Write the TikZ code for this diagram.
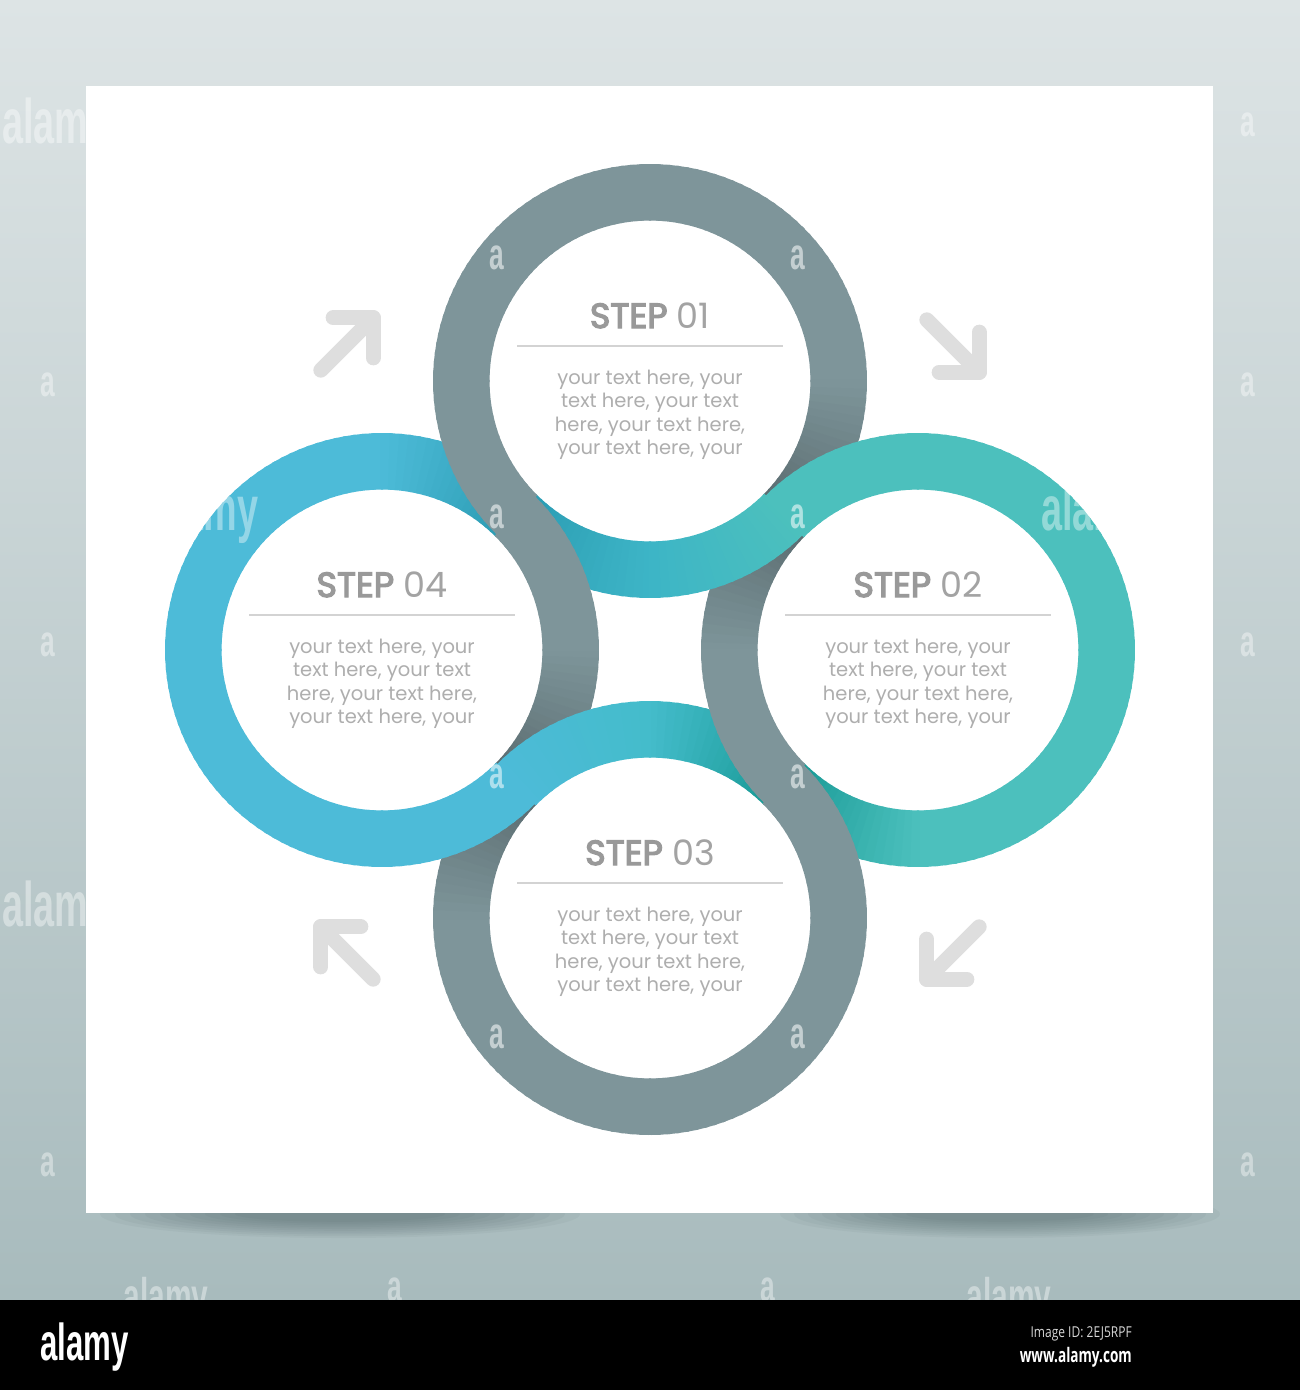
\documentclass[tikz,border=0pt]{standalone}
\usepackage{fontspec}
\newfontfamily\popfont{Poppins}
\newfontfamily\popstep{Poppins}[FakeBold=3.6]
\newfontfamily\alamyfont{Liberation Sans}[FakeStretch=0.6]
\newfontfamily\idfont{Open Sans}[FakeStretch=0.8]
\newfontfamily\wwwfont{Open Sans}[FakeStretch=0.68]
\definecolor{bgtop}{HTML}{DDE4E5}
\definecolor{bgbot}{HTML}{A8BBBD}
\definecolor{gry}{HTML}{7E959A}
\definecolor{gryd}{HTML}{5B6D71}
\definecolor{blu}{HTML}{4DBBD8}
\definecolor{blud}{HTML}{2C9DB4}
\definecolor{tea}{HTML}{4CC0BD}
\definecolor{tead}{HTML}{1A9B97}
\definecolor{midt}{HTML}{3DB5C6}
\definecolor{midb}{HTML}{44BCCB}
\definecolor{steptxt}{HTML}{999999}
\definecolor{numtxt}{HTML}{A3A3A3}
\definecolor{bodytxt}{HTML}{AEAEAE}
\definecolor{divc}{HTML}{D3D3D3}
\definecolor{arrc}{HTML}{DEDEDE}
\definecolor{shadc}{HTML}{3E5559}
\definecolor{idtxt}{HTML}{D8D8D8}
% ring segment: cx cy a1 a2 col1 col2 N  (a1<a2, image angles, y down)
\newcommand\rseg[7]{%
  \foreach \k in {1,...,#7}{%
    \pgfmathsetmacro\angA{#3+(#4-#3)*(\k-1)/#7-0.4}%
    \pgfmathsetmacro\angB{#3+(#4-#3)*\k/#7+0.4}%
    \pgfmathsetmacro\pc{100-100*(\k-0.5)/#7}%
    \fill[#5!\pc!#6] ({#1+160.5*cos(\angA)},{#2+160.5*sin(\angA)})
      -- ({#1+217*cos(\angA)},{#2+217*sin(\angA)})
      -- ({#1+217*cos(\angB)},{#2+217*sin(\angB)})
      -- ({#1+160.5*cos(\angB)},{#2+160.5*sin(\angB)}) -- cycle;
  }}
\newcommand\stepblock[4]{%
  \node[steplabel] (#4h) at (#1,#2-53) {{\popstep STEP} {\color{numtxt}#3}};
  \draw[divider] (#1-133,#2-35) -- (#1+133,#2-35);
  \node[bodyline] (#4a) at (#1,#2+3) {your text here, your};
  \node[bodyline] (#4b) at (#1,#2+26.5) {text here, your text};
  \node[bodyline] (#4c) at (#1,#2+50) {here, your text here,};
  \node[bodyline] (#4d) at (#1,#2+73.5) {your text here, your};
}
\newcommand\arrowmark[4]{%
  \coordinate (#4c) at ({#1+37*cos(#3)},{#2+37*sin(#3)});
  \coordinate (#4t) at ({#1-37*cos(#3)},{#2-37*sin(#3)});
  \coordinate (#4p) at ({#1+37*cos(#3)+40*cos(#3+135)},{#2+37*sin(#3)+40*sin(#3+135)});
  \coordinate (#4q) at ({#1+37*cos(#3)+40*cos(#3-135)},{#2+37*sin(#3)+40*sin(#3-135)});
  \draw[arrowline] (#4t) -- (#4c);
  \draw[arrowline] (#4p) -- (#4c) -- (#4q);
}
\tikzset{
  steplabel/.style={font=\popfont\fontsize{35}{40}\selectfont, text=steptxt, anchor=base, inner sep=0pt},
  bodyline/.style={font=\popfont\fontsize{19.5}{23}\selectfont, text=bodytxt, anchor=base, inner sep=0pt},
  divider/.style={draw=divc, line width=2.5},
  arrowline/.style={draw=arrc, line width=15, line cap=round, line join=round},
  wmword/.style={font=\alamyfont\bfseries\fontsize{63}{70}\selectfont, text=white, opacity=0.4, inner sep=0pt},
  wmsmall/.style={font=\alamyfont\bfseries\fontsize{50}{56}\selectfont, text=white, opacity=0.4, anchor=base, inner sep=0pt},
  wma/.style={font=\alamyfont\bfseries\fontsize{44}{50}\selectfont, text=white, opacity=0.4, anchor=base, inner sep=0pt},
}
\begin{document}
\begin{tikzpicture}[x=1pt,y=-1pt]
\useasboundingbox (0,0) rectangle (1300,1390);
% background
\shade[top color=bgtop, bottom color=bgbot] (0,0) rectangle (1300,1300);
% shadow under card
\foreach \i in {0,...,9}{
  \fill[shadc, opacity=0.055] (340,1214) ellipse [x radius={240-15*\i}, y radius={24-1.8*\i}];
  \fill[shadc, opacity=0.05] (1000,1214) ellipse [x radius={220-14*\i}, y radius={24-1.8*\i}];
}
% card
\fill[white] (86,86) rectangle (1213,1213);
% ---- rings: under halves
\rseg{650}{381}{270}{360}{gry}{gry}{36}
\rseg{650}{381}{360}{405}{gry}{gryd}{18}
\rseg{650}{381}{90}{135}{midt}{blud}{18}
\rseg{382}{650}{0}{45}{gry}{gryd}{18}
\rseg{382}{650}{180}{270}{blu}{blu}{36}
\rseg{382}{650}{270}{315}{blu}{blud}{18}
\rseg{650}{918}{90}{180}{gry}{gry}{36}
\rseg{650}{918}{180}{225}{gry}{gryd}{18}
\rseg{650}{918}{270}{315}{midb}{tead}{18}
\rseg{918}{650}{180}{225}{gry}{gryd}{18}
\rseg{918}{650}{0}{90}{tea}{tea}{36}
\rseg{918}{650}{90}{135}{tea}{tead}{18}
% ---- rings: over halves
\rseg{650}{381}{135}{270}{gry}{gry}{54}
\rseg{650}{381}{45}{90}{tea}{midt}{18}
\rseg{382}{650}{-45}{0}{gry}{gry}{18}
\rseg{382}{650}{45}{180}{blu}{blu}{54}
\rseg{650}{918}{-45}{90}{gry}{gry}{54}
\rseg{650}{918}{225}{270}{blu}{midb}{18}
\rseg{918}{650}{135}{180}{gry}{gry}{18}
\rseg{918}{650}{-135}{0}{tea}{tea}{54}
% ---- texts
\stepblock{650}{381}{01}{s1}
\stepblock{918}{650}{02}{s2}
\stepblock{650}{918}{03}{s3}
\stepblock{382}{650}{04}{s4}
% ---- arrows
\arrowmark{347}{344}{-45}{aul}
\arrowmark{953}{346}{45}{aur}
\arrowmark{953}{953}{135}{alr}
\arrowmark{347}{953}{225}{all}
% ---- watermarks
\node[wmword, anchor=base west] (w1) at (2,143) {alamy};
\node[wmword, anchor=base west] (w2) at (2,926) {alamy};
\node[wmword, anchor=base] (w3) at (205,530) {alamy};
\node[wmword, anchor=base] (w4) at (1095,530) {alamy};
\node[wmsmall] (w5) at (166,1313) {alamy};
\node[wmsmall] (w6) at (1009,1313) {alamy};
\foreach \px/\py [count=\n] in {497/258,798/258,497/517,798/517,497/777,798/777,497/1037,798/1037}{
  \node[wma, opacity=0.55] (wr\n) at (\px,\py+11) {a};
}
\foreach \px/\py [count=\n] in {48/385,48/645,48/1165,1248/125,1248/385,1248/645,1248/1165,395/1290,768/1290}{
  \node[wma] (wb\n) at (\px,\py+11) {a};
}
% ---- bottom band
\fill[black] (0,1300) rectangle (1300,1390);
\node[font=\alamyfont\bfseries\fontsize{52}{58}\selectfont, text=white, anchor=base west, inner sep=0pt] (logo) at (40,1360) {alamy};
\node[font=\idfont\fontsize{15}{18}\selectfont, text=idtxt, anchor=base east, inner sep=0pt] (imgid) at (1132,1337) {Image ID: 2EJ5RPF};
\node[font=\wwwfont\bfseries\fontsize{20}{24}\selectfont, text=white, anchor=base east, inner sep=0pt] (www) at (1132,1362) {www.alamy.com};
\end{tikzpicture}
\end{document}
